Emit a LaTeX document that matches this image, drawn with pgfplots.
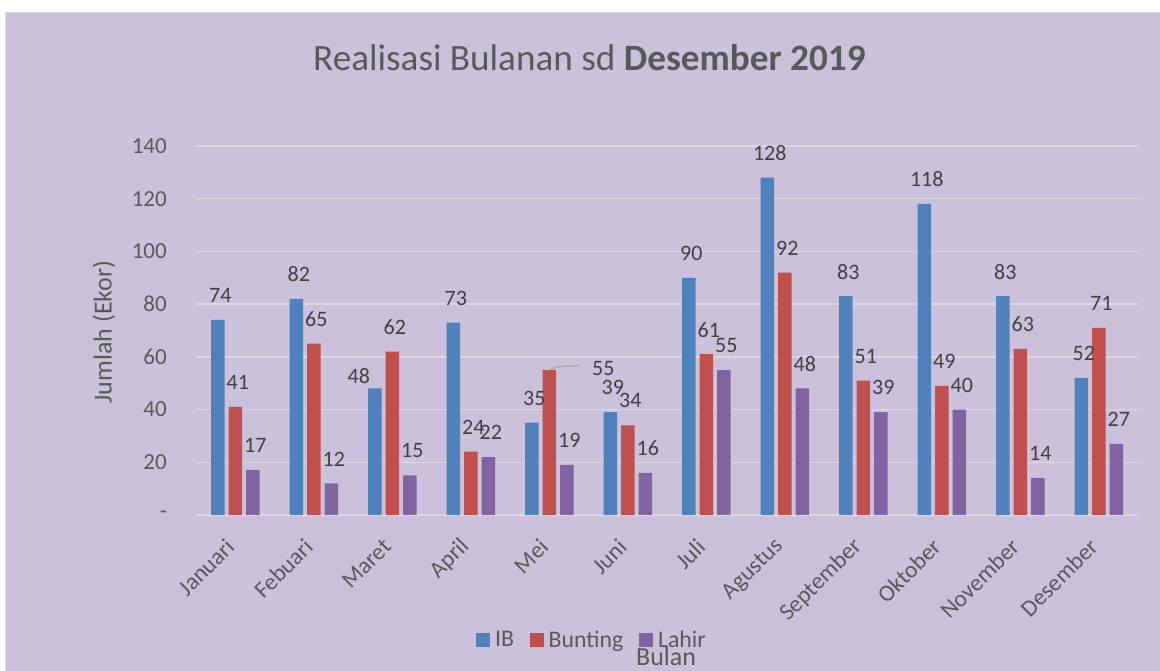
\documentclass[border=0pt]{standalone}
\usepackage{pgfplots}
\usepackage{pgfplotstable}
\pgfplotsset{compat=1.18}
\usepackage{fontspec}
\setmainfont{Carlito}
\definecolor{bgc}{HTML}{CBC1DA}
\definecolor{gridc}{HTML}{DCD8E0}
\definecolor{ibc}{HTML}{4F81BD}
\definecolor{bunc}{HTML}{C0504D}
\definecolor{lahc}{HTML}{8064A2}
\definecolor{tickc}{HTML}{595959}
\definecolor{labc}{HTML}{404040}

\pgfplotstableread{
x y dx dy
0 74 2.5 24.5
1 82 2.5 24.5
2 48 -16 12.5
3 73 2.5 24.5
4 35 2.5 24.5
5 39 2.5 24.5
6 90 2.5 24.5
7 128 2.5 24.5
8 83 2.5 24.5
9 118 2.5 24.5
10 83 2.5 24.5
11 52 2.5 24.5
}\ibdata
\pgfplotstableread{
x y dx dy
0 41 2.5 24.5
1 65 2.5 24.5
2 62 2.5 24.5
3 24 2.5 24.5
4 55 54 1.7
5 34 2.5 24.5
6 61 2.5 24.5
7 92 2.5 24.5
8 51 2.5 24.5
9 49 2.5 24.5
10 63 2.5 24.5
11 71 2.5 24.5
}\bundata
\pgfplotstableread{
x y dx dy
0 17 2.5 24.5
1 12 2.5 24.5
2 15 2.5 24.5
3 22 2.5 24.5
4 19 2.5 24.5
5 16 2.5 24.5
6 55 2.5 24.5
7 48 2.5 24.5
8 39 2.5 24.5
9 40 2.5 24.5
10 14 2.5 24.5
11 27 2.5 24.5
}\lahdata

\begin{document}
\begin{tikzpicture}
\useasboundingbox (0,0) rectangle (1160pt,671pt);
\fill[white] (0,0) rectangle (1160pt,671pt);
\filldraw[fill=bgc, draw=gridc, line width=1pt] (5pt,-2pt) rectangle (1163pt,658pt);
\begin{axis}[
  at={(196pt,156pt)}, anchor=south west,
  scale only axis, width=942pt, height=369pt,
  xmin=-0.5, xmax=11.5, ymin=0, ymax=140,
  ybar=4pt, bar width=13.5pt,
  axis line style={draw=none},
  major tick length=0pt,
  /pgf/number format/assume math mode=true,
  ytick={0,20,40,60,80,100,120,140},
  yticklabels={-,20,40,60,80,100,120,140},
  ymajorgrids, major grid style={gridc, line width=1.4pt},
  yticklabel style={anchor=east, inner sep=0pt, xshift=-29pt, font=\fontsize{23}{27}\selectfont, text=tickc},
  xtick={0,...,11},
  xticklabels={Januari,Febuari,Maret,April,Mei,Juni,Juli,Agustus,September,Oktober,November,Desember},
  xticklabel style={xshift=-5pt, yshift=-28pt, rotate=45, anchor=east, inner sep=0pt, font=\fontsize{23.5}{27}\selectfont, text=tickc},
  title={Realisasi Bulanan sd \textbf{Desember 2019}},
  title style={at={(axis description cs:0.4177,1.222)}, anchor=center, font=\fontsize{37.2}{44}\selectfont, text=tickc},
  ylabel={Jumlah (Ekor)},
  every axis y label/.style={at={(axis description cs:-0.0977,0.496)}, rotate=90, anchor=center, font=\fontsize{26}{31}\selectfont, text=tickc},
  xlabel={Bulan},
  every axis x label/.style={at={(axis description cs:0.499,-0.385)}, anchor=center, font=\fontsize{26}{31}\selectfont, text=tickc},
  legend columns=3,
  legend style={at={(axis description cs:0.422,-0.339)}, anchor=center, draw=none, fill=none,
    font=\fontsize{23.8}{28}\selectfont, text=tickc,
    /tikz/every even column/.append style={column sep=11pt},
    nodes={inner sep=5pt}},
  legend image code/.code={\fill[#1] (0pt,-6.85pt) rectangle (13.7pt,6.85pt);},
  nodes near coords={\pgfmathprintnumber{\pgfplotspointmeta}},
  point meta=explicit,
  visualization depends on={\thisrow{dx} \as \dx},
  visualization depends on={\thisrow{dy} \as \dy},
  nodes near coords style={anchor=center, xshift=\dx pt, yshift=\dy pt, font=\fontsize{22}{26}\selectfont, text=labc, inner sep=0pt},
]
\addplot[fill=ibc, draw=none] table[x=x, y=y, meta=y] {\ibdata};
\addplot[fill=bunc, draw=none] table[x=x, y=y, meta=y] {\bundata};
\addplot[fill=lahc, draw=none] table[x=x, y=y, meta=y] {\lahdata};
\legend{IB,Bunting,Lahir}
\draw[gray!70, line width=1.2pt] (axis cs:4.01,55.2) .. controls (axis cs:4.12,56.4) .. (axis cs:4.37,56.6);
\end{axis}
\end{tikzpicture}
\end{document}
